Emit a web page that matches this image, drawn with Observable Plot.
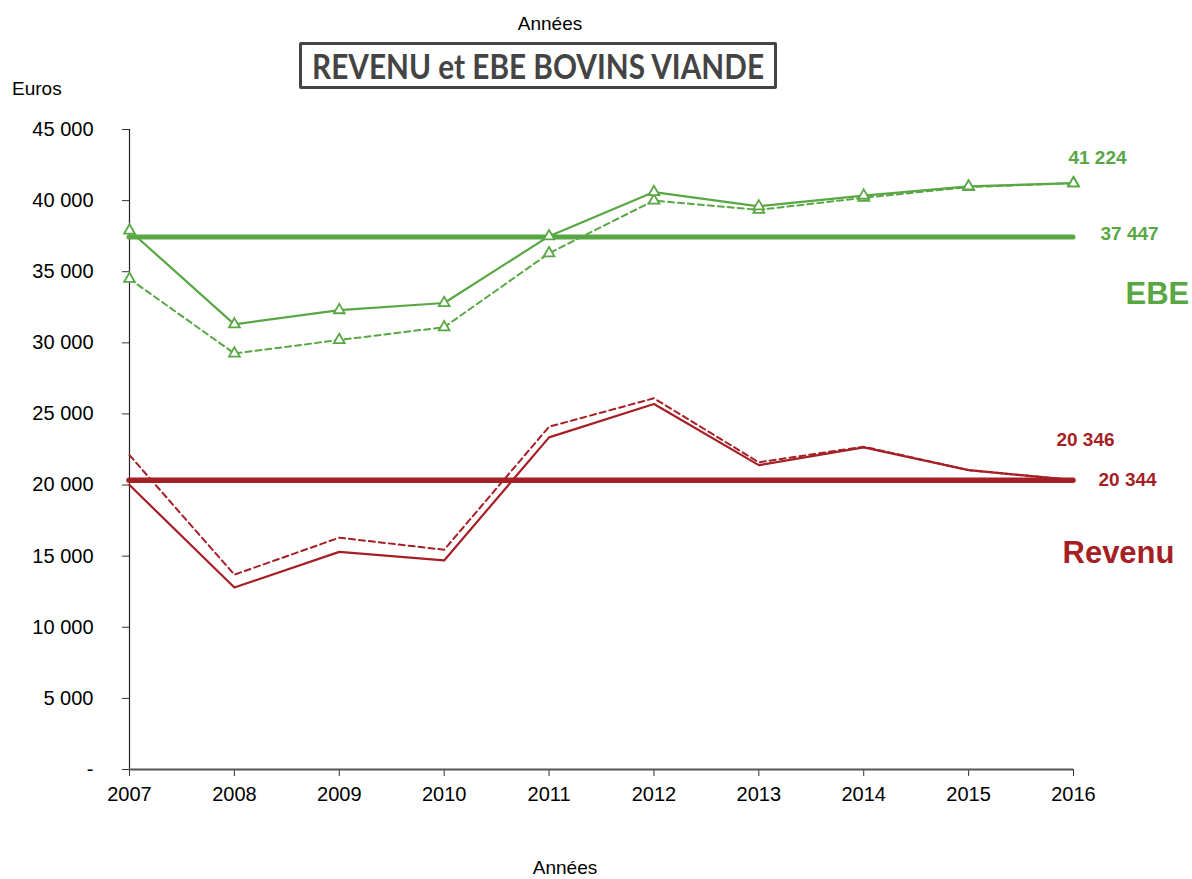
<!DOCTYPE html>
<html>
<head>
<meta charset="utf-8">
<script src="https://cdn.jsdelivr.net/npm/d3@7"></script>
<script src="https://cdn.jsdelivr.net/npm/@observablehq/plot@0.6"></script>
<style>
  html, body { margin: 0; padding: 0; background: #fff; }
  #wrap { position: relative; width: 1192px; height: 879px; font-family: "Liberation Sans", Arial, sans-serif; }
  #wrap svg { position: absolute; left: 0; top: 0; }
  .lbl { position: absolute; font-size: 19px; color: #000; white-space: nowrap; }
  #titlebox { position: absolute; left: 299px; top: 42px; width: 472px; height: 41px; border: 3px solid #444;
    border-radius: 2px; overflow: visible; }
  #titletext { position: absolute; left: 50%; top: 0; font-family: Lato, "Open Sans", sans-serif; font-weight: bold; font-size: 34px;
    color: #444; line-height: 41px; white-space: nowrap; transform-origin: center center; }
</style>
</head>
<body>
<div id="wrap">
  <div class="lbl" style="left:0;width:1100px;text-align:center;top:13px;">Années</div>
  <div id="titlebox"><span id="titletext">REVENU et EBE BOVINS VIANDE</span></div>
  <div class="lbl" style="left:12px;top:78px;">Euros</div>
  <div class="lbl" style="left:0;width:1130px;text-align:center;top:857px;">Années</div>
</div>
<script>
const years = [2007, 2008, 2009, 2010, 2011, 2012, 2013, 2014, 2015, 2016];
const ebe = [37900, 31300, 32300, 32800, 37500, 40600, 39600, 40350, 41000, 41224];
const ebeDashed = [34500, 29250, 30200, 31100, 36300, 40000, 39350, 40200, 40950, 41224];
const revenu = [20000, 12800, 15300, 14700, 23350, 25700, 21400, 22650, 21050, 20346];
const revenuDashed = [22100, 13700, 16300, 15450, 24100, 26100, 21600, 22700, 21050, 20346];
const ebeMean = 37447;
const revenuMean = 20344;
const yTicks = [0, 5000, 10000, 15000, 20000, 25000, 30000, 35000, 40000, 45000];

const green = "#58A744";
const red = "#A51F25";

const toRows = (vals) => years.map((y, i) => ({year: y, value: vals[i]}));
const ebeRows = toRows(ebe), ebeDRows = toRows(ebeDashed);
const revRows = toRows(revenu), revDRows = toRows(revenuDashed);
const first = years[0], last = years[years.length - 1];
const fmt = d => d === 0 ? "-" : d3.format(",")(d).replace(/,/g, " ");

const chart = Plot.plot({
  width: 1192,
  height: 879,
  marginLeft: 129,
  marginRight: 119,
  marginTop: 129,
  marginBottom: 110,
  style: {fontFamily: "Liberation Sans, Arial, sans-serif", fontSize: "20px", color: "#000", background: "transparent"},
  x: {domain: [first, last], ticks: years, tickFormat: d => String(d), label: null},
  y: {domain: [0, 45000], ticks: yTicks, tickFormat: fmt, label: null},
  marks: [
    Plot.axisX({ticks: years, tickFormat: d => String(d), tickSize: 7, tickPadding: 10, label: null, stroke: "#333", fontSize: 20}),
    Plot.axisY({ticks: yTicks, tickFormat: fmt, tickSize: 7, tickPadding: 29, label: null, stroke: "#333", fontSize: 20}),
    Plot.ruleX([first], {stroke: "#222", strokeWidth: 1.2}),
    Plot.ruleY([0], {stroke: "#555", strokeWidth: 2}),
    Plot.ruleY([ebeMean], {x1: first, x2: last, stroke: green, strokeWidth: 5, strokeLinecap: "round"}),
    Plot.ruleY([revenuMean], {x1: first, x2: last, stroke: red, strokeWidth: 5.5, strokeLinecap: "round"}),
    Plot.line(ebeDRows, {x: "year", y: "value", stroke: green, strokeWidth: 2, strokeDasharray: "6,4"}),
    Plot.line(ebeRows, {x: "year", y: "value", stroke: green, strokeWidth: 2.2}),
    Plot.line(revDRows, {x: "year", y: "value", stroke: red, strokeWidth: 2, strokeDasharray: "6,4"}),
    Plot.line(revRows, {x: "year", y: "value", stroke: red, strokeWidth: 2.2}),
    Plot.dot(ebeDRows, {x: "year", y: "value", symbol: "triangle", r: 4, stroke: green, fill: "white", strokeWidth: 1.8}),
    Plot.dot(ebeRows, {x: "year", y: "value", symbol: "triangle", r: 4, stroke: green, fill: "white", strokeWidth: 1.8}),
    Plot.text([{year: last, value: ebe[ebe.length - 1]}], {x: "year", y: "value", text: d => fmt(d.value), dx: 24, dy: -25, fill: green, fontWeight: "bold", fontSize: 19}),
    Plot.text([ebeMean], {x: last, y: d => d, text: d => fmt(d), dx: 27, dy: -3, textAnchor: "start", fill: green, fontWeight: "bold", fontSize: 19}),
    Plot.text([ebeMean], {x: last, y: d => d, text: () => "EBE", dx: 52, dy: 57, textAnchor: "start", fill: green, fontWeight: "bold", fontSize: 31}),
    Plot.text([{year: last, value: revenu[revenu.length - 1]}], {x: "year", y: "value", text: d => fmt(d.value), dx: 12, dy: -40, fill: red, fontWeight: "bold", fontSize: 19}),
    Plot.text([revenuMean], {x: last, y: d => d, text: d => fmt(d), dx: 25, textAnchor: "start", fill: red, fontWeight: "bold", fontSize: 19}),
    Plot.text([revenuMean], {x: last, y: d => d, text: () => "Revenu", dx: -11, dy: 73, textAnchor: "start", fill: red, fontWeight: "bold", fontSize: 31})
  ]
});
document.getElementById("wrap").prepend(chart);

// fit the title text to the width it has in the reference box
const tt = document.getElementById("titletext");
const w = tt.getBoundingClientRect().width;
const s = w > 0 ? 452 / w : 1;
tt.style.transform = `translateX(-50%) scaleX(${s})`;
</script>
</body>
</html>
